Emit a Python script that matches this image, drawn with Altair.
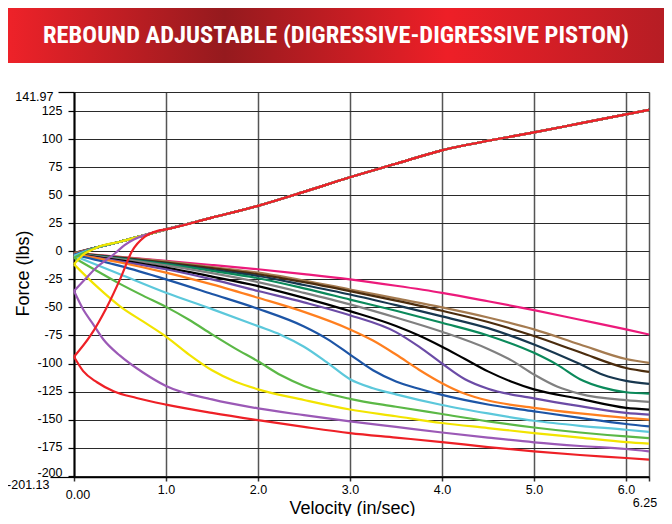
import altair as alt
import pandas as pd

TITLE = "REBOUND ADJUSTABLE (DIGRESSIVE-DIGRESSIVE PISTON)"
Y_TICKS = [141.97, 125, 100, 75, 50, 25, 0, -25, -50, -75, -100, -125, -150, -175, -200, -201.13]
X_TICKS = [0, 1, 2, 3, 4, 5, 6, 6.25]

# common compression (upper) curve
MAIN_X = [0, 0.25, 0.5, 0.75, 1, 1.5, 2, 2.5, 3, 3.5, 4, 4.25, 4.5, 5, 5.5, 6, 6.25]
MAIN_Y = [-1.5, 3.5, 8.5, 14, 19.5, 30, 40.5, 53, 66, 78, 90, 94.5, 98.5, 106, 114, 122, 126]

# rebound (lower) curves, one per adjuster setting
G14 = [0, 0.5, 1, 1.5, 2, 2.5, 3, 3.5, 4, 4.5, 5, 5.5, 6, 6.25]
MAGENTA_X = G14
MAGENTA_Y = [-1.5, -5, -8.6, -12.2, -16, -20.3, -25, -30.7, -37, -44.5, -52.4, -61, -69.6, -74.1]
TAN_X = G14
TAN_Y = [-1.5, -5.2, -9, -14, -19, -26, -34, -42, -50, -59, -69.6, -83, -96, -99.5]
BROWN_X = G14
BROWN_Y = [-1.7, -5.6, -10, -15, -20.5, -27.5, -35.5, -44, -53, -63, -75.5, -90, -104, -107.5]
NAVY_X = [0, 0.5, 1, 1.5, 2, 2.5, 3, 3.5, 4, 4.5, 5, 5.5, 5.75, 6, 6.25]
NAVY_Y = [-2, -6, -11, -16.5, -22, -30, -38.5, -48, -58, -68.5, -83, -100.5, -110, -115.5, -118.2]
TEAL_X = [0, 0.5, 1, 1.5, 2, 2.5, 3, 3.5, 4, 4.5, 5, 5.25, 5.5, 5.75, 6, 6.25]
TEAL_Y = [-2, -6.5, -11.5, -17.5, -24, -33, -43, -53, -63.7, -75, -90.5, -101, -114, -121.5, -125.6, -126.8]
GRAY_X = [0, 0.5, 1, 1.5, 2, 2.5, 3, 3.5, 4, 4.5, 4.75, 5, 5.25, 5.5, 6, 6.25]
GRAY_Y = [-2, -7, -12.5, -19.5, -27.4, -37, -47.3, -59, -71.7, -87, -97, -109.8, -120.5, -127, -132.7, -134.2]
BLACK_X = [0, 0.5, 1, 1.5, 2, 2.5, 3, 3.5, 3.75, 4, 4.25, 4.5, 4.75, 5, 5.5, 6, 6.25]
BLACK_Y = [-2.5, -8, -14.6, -22.5, -31, -41.5, -53.3, -66.5, -75, -85, -96, -107, -116, -123, -131.5, -139.5, -141]
PURPLE_X = [0, 0.5, 1, 1.5, 2, 2.5, 3, 3.5, 3.75, 4, 4.25, 4.5, 5, 5.5, 6, 6.25]
PURPLE_Y = [-2.5, -9, -16, -25, -35.4, -45.5, -57, -72, -85, -100, -114, -122.5, -131, -138, -144, -145.5]
ORANGE_X = [0, 0.5, 1, 1.5, 2, 2.5, 3, 3.25, 3.5, 3.75, 4, 4.25, 4.5, 5, 5.5, 6, 6.25]
ORANGE_Y = [-2.5, -10, -19, -29.5, -41.4, -54, -69.6, -79.5, -92, -105.5, -117.5, -127, -133, -139.5, -144.5, -148.5, -150]
BLUE_X = [0, 0.5, 1, 1.5, 2, 2.5, 2.75, 3, 3.25, 3.5, 3.75, 4, 4.5, 5, 5.5, 6, 6.25]
BLUE_Y = [-3, -13, -25, -38, -51.2, -67, -78, -92, -106, -116, -122.5, -128, -136.5, -142.6, -148.5, -153.9, -156]
CYAN_X = [0, 0.5, 1, 1.5, 2, 2.25, 2.5, 2.75, 3, 3.25, 3.5, 4, 4.5, 5, 5.5, 6, 6.25]
CYAN_Y = [-4, -20.5, -37, -51.5, -66.7, -74.5, -85, -99, -114, -122, -127.5, -137, -144.5, -151, -155.5, -159, -161]
GREEN_X = [0, 0.25, 0.5, 0.75, 1, 1.25, 1.5, 1.75, 2, 2.25, 2.5, 3, 3.5, 4, 4.5, 5, 5.5, 6, 6.25]
GREEN_Y = [-5.7, -17.5, -29, -39.5, -49.5, -61, -74, -86.5, -98, -110.5, -120, -131.5, -138.5, -145, -151.5, -157, -161.5, -165, -166.4]
YELLOW_X = [0, 0.25, 0.5, 0.75, 1, 1.25, 1.5, 1.75, 2, 2.5, 3, 3.5, 4, 4.5, 5, 5.5, 6, 6.25]
YELLOW_Y = [-11.6, -31.5, -49, -62.5, -76, -92, -106, -116, -123, -132.5, -141, -147, -153, -157.5, -162, -166, -170, -171.4]
VIOLET_X = [0, 0.1, 0.2, 0.32, 0.5, 0.75, 1, 1.5, 2, 2.5, 3, 3.5, 4, 4.5, 5, 5.5, 6, 6.25]
VIOLET_Y = [-35.4, -51.8, -64, -78.6, -93, -108, -120, -132, -140, -146, -151.5, -156.5, -161.5, -166, -170.2, -173.5, -176.2, -178.3]
RED_X = [0, 0.1, 0.25, 0.43, 0.68, 1, 1.5, 2, 2.5, 3, 3.5, 4, 4.5, 5, 5.5, 6, 6.25]
RED_Y = [-94, -106.8, -116.7, -124.7, -130.7, -136.6, -144, -150.5, -156.5, -162, -166, -170, -174.5, -178.3, -181.5, -184.2, -185.7]

# starts of compression curves that begin below the common curve
YELLOW_UP_X = [0, 0.1, 0.2]
YELLOW_UP_Y = [-11.6, -3, 1.5]
VIOLET_UP_X = [0, 0.12, 0.25, 0.355, 0.45, 0.55, 0.65]
VIOLET_UP_Y = [-35.4, -25, -14, -7.5, -1.5, 5.5, 10.5]
RED_UP_X = [0, 0.18, 0.355, 0.5, 0.63, 0.77, 0.9]
RED_UP_Y = [-94, -75, -50, -25, 0, 13, 18]

SERIES = [
    ("magenta", "#ec1a7b", MAGENTA_X, MAGENTA_Y, None, None),
    ("tan", "#a57b50", TAN_X, TAN_Y, None, None),
    ("brown", "#4b2c0d", BROWN_X, BROWN_Y, None, None),
    ("navy", "#17374f", NAVY_X, NAVY_Y, None, None),
    ("teal", "#0b8a5b", TEAL_X, TEAL_Y, None, None),
    ("gray", "#808080", GRAY_X, GRAY_Y, None, None),
    ("black", "#000000", BLACK_X, BLACK_Y, None, None),
    ("purple", "#6b4ba6", PURPLE_X, PURPLE_Y, None, None),
    ("orange", "#ff7f1f", ORANGE_X, ORANGE_Y, None, None),
    ("blue", "#1d55a6", BLUE_X, BLUE_Y, None, None),
    ("cyan", "#5cc8db", CYAN_X, CYAN_Y, None, None),
    ("green", "#5bb846", GREEN_X, GREEN_Y, None, None),
    ("yellow", "#f2e400", YELLOW_X, YELLOW_Y, YELLOW_UP_X, YELLOW_UP_Y),
    ("violet", "#9b59b6", VIOLET_X, VIOLET_Y, VIOLET_UP_X, VIOLET_UP_Y),
    ("red", "#ee2026", RED_X, RED_Y, RED_UP_X, RED_UP_Y),
]

FONT = "Liberation Sans, Arial, Helvetica, sans-serif"
TITLE_FONT = "Roboto Condensed, Liberation Sans Narrow, Arial Narrow, sans-serif"

W, H = 575, 385

x_axis = alt.Axis(
    values=X_TICKS,
    labelExpr="datum.value == 0 ? '0.00' : (datum.value == 6.25 ? '6.25' : format(datum.value, '.1f'))",
    title="Velocity (in/sec)",
    titleFont=FONT, titleFontSize=18, titleFontWeight="normal", titleColor="black",
    titleX=278, titleY=31, titleBaseline="middle", titleAlign="center",
    labelFont=FONT, labelFontSize=12.5, labelColor="black", labelFlush=False, labelOverlap=False,
    labelPadding={"condition": [{"test": "datum.value == 0", "value": 7},
                                {"test": "datum.value == 6.25", "value": 15}], "value": 2},
    labelOffset={"condition": [{"test": "datum.value == 0", "value": 3.5},
                               {"test": "datum.value == 6.25", "value": -4.5}], "value": 0},
    tickSize=4, tickColor="#333", tickWidth=1.5,
    domainColor="black", domainWidth=1.5,
    grid=True, gridColor="#555", gridWidth=1.5, gridOpacity=1,
)

y_axis = alt.Axis(
    values=Y_TICKS,
    labelExpr="'' + datum.value",
    title="Force (lbs)",
    titleFont=FONT, titleFontSize=18, titleFontWeight="normal", titleColor="black",
    titleX=-51, titleY=181, titleAngle=270, titleAlign="center", titleBaseline="middle",
    labelFont=FONT, labelFontSize=12.5, labelColor="black", labelOverlap=False, labelFlush=False,
    tickSize={"condition": [{"test": "datum.value > 141", "value": 16},
                            {"test": "datum.value < -201", "value": 24}], "value": 6},
    labelPadding={"condition": [{"test": "datum.value > 141", "value": 5},
                                {"test": "datum.value < -201", "value": 1}], "value": 6},
    labelOffset={"condition": [{"test": "datum.value > 141", "value": 4.5},
                               {"test": "datum.value < -201", "value": 7},
                               {"test": "datum.value == -200", "value": -3.5}], "value": -1},
    tickColor="black", tickWidth=1.2,
    domainColor="black", domainWidth=2,
    grid=True, gridColor="#2a2a2a", gridWidth=1.2, gridOpacity=1,
)

xs = alt.Scale(domain=[0, 6.25], nice=False, zero=False)
ys = alt.Scale(domain=[-201.13, 141.97], nice=False, zero=False)

layers = []
for name, color, lx, ly, ux, uy in SERIES:
    rows = [{"x": x, "y": y, "part": "lower"} for x, y in zip(lx, ly)]
    if ux is None:
        up_x = [0] + MAIN_X[1:]
        up_y = [ly[0]] + MAIN_Y[1:]
    else:
        last = ux[-1]
        up_x = ux + [v for v in MAIN_X if v > last]
        up_y = uy + [MAIN_Y[i] for i, v in enumerate(MAIN_X) if v > last]
    rows += [{"x": x, "y": y, "part": "upper"} for x, y in zip(up_x, up_y)]
    df = pd.DataFrame(rows)
    layers.append(
        alt.Chart(df).mark_line(color=color, strokeWidth=2.2, interpolate="monotone").encode(
            x=alt.X("x:Q", scale=xs, axis=x_axis),
            y=alt.Y("y:Q", scale=ys, axis=y_axis),
            detail="part:N",
        )
    )

one = pd.DataFrame({"k": [0]})
banner = alt.Chart(one).mark_rect(
    fill=alt.Gradient(
        gradient="linear", x1=0, x2=1, y1=0, y2=0,
        stops=[
            alt.GradientStop(offset=0, color="#ee2229"),
            alt.GradientStop(offset=0.33, color="#951a1e"),
            alt.GradientStop(offset=0.67, color="#ee1f27"),
            alt.GradientStop(offset=1, color="#b61d24"),
        ],
    )
).encode(x=alt.value(-66), x2=alt.value(590), y=alt.value(-84), y2=alt.value(-29))

title = alt.Chart(one).mark_text(
    text=TITLE, font=TITLE_FONT, fontSize=24.5, fontWeight="bold", color="white",
    align="center", baseline="middle",
).encode(x=alt.value(262), y=alt.value(-56))

chart = alt.layer(*layers, banner, title).properties(
    width=W, height=H,
    padding={"left": 66, "top": 84, "right": 15, "bottom": 39},
    autosize=alt.AutoSizeParams(type="none"),
).configure_view(stroke=None)

chart.save("out.html", embed_options={"renderer": "svg", "actions": False})
